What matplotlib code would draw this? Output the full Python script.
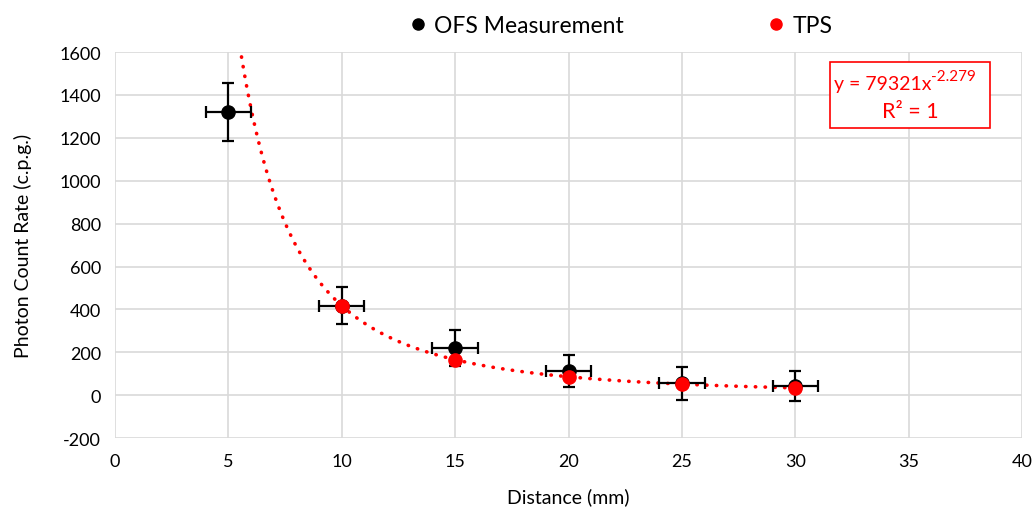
import numpy as np
import matplotlib.pyplot as plt
from matplotlib.lines import Line2D
from matplotlib.patches import Rectangle

plt.rcParams['font.family'] = ['Lato', 'DejaVu Sans']
plt.rcParams['axes.unicode_minus'] = False

# OFS measurements (with error bars)
ofs_x = np.array([5, 10, 15, 20, 25, 30])
ofs_y = np.array([1320, 417, 219, 112, 55, 45])
ofs_yerr = np.array([135, 86, 84, 75, 75, 70])
ofs_xerr = np.array([1, 1, 1, 1, 1, 1])

# TPS values
tps_x = np.array([10, 15, 20, 25, 30])
tps_y = np.array([417, 166, 86, 52, 35])

# power trendline y = A * x^B
A = 79321
B = -2.279

fig = plt.figure(figsize=(10.33, 5.1), dpi=100)
ax = fig.add_axes([0.1113, 0.139, 0.8781, 0.757])

x_fit = np.linspace(5, 30, 400)
ax.plot(x_fit, A * x_fit**B, color='#ff0000', lw=2.6, linestyle=(0, (0.1, 2.6)),
        dash_capstyle='round', zorder=3)

ax.errorbar(ofs_x, ofs_y, xerr=ofs_xerr, yerr=ofs_yerr, fmt='o', color='black',
            ms=9.5, elinewidth=1.6, capsize=4, capthick=1.6, zorder=4)
ax.plot(tps_x, tps_y, 'o', color='#ff0000', ms=9.5, zorder=5)

ax.set_xlim(0, 40)
ax.set_ylim(-200, 1600)
ax.set_xticks(np.arange(0, 45, 5))
ax.set_yticks(np.arange(-200, 1800, 200))
ax.grid(True, color='#d9d9d9', lw=1.2)
ax.set_axisbelow(True)
for s in ax.spines.values():
    s.set_visible(False)
ax.tick_params(length=0, labelsize=13, colors='#000000')
ax.tick_params(axis='x', pad=11)
ax.tick_params(axis='y', pad=10)

ax.set_xlabel('Distance (mm)', fontsize=14, labelpad=13)
ax.set_ylabel('Photon Count Rate (c.p.g.)', fontsize=14, labelpad=20)

# trendline label box
ax.add_patch(Rectangle((0.788, 0.803), 0.177, 0.171, transform=ax.transAxes,
                       fc='white', ec='#ff0000', lw=1.2, zorder=6))
ax.text(0.9, 0.918, 'y = 79321x', transform=ax.transAxes, ha='right',
        va='center', color='#ff0000', fontsize=14, zorder=7)
ax.text(0.9, 0.937, '-2.279', transform=ax.transAxes, ha='left',
        va='center', color='#ff0000', fontsize=11, zorder=7)
ax.text(0.8765, 0.847, 'R² = 1', transform=ax.transAxes, ha='center',
        va='center', color='#ff0000', fontsize=15.5, zorder=7)

handles = [Line2D([], [], ls='none', marker='o', color='black', ms=8),
           Line2D([], [], ls='none', marker='o', color='#ff0000', ms=8)]
ax.legend(handles, ['OFS Measurement', 'TPS'], loc='lower center',
          bbox_to_anchor=(0.558, 1.005), ncol=2, frameon=False, fontsize=16.5,
          handlelength=0.7, handletextpad=0.35, columnspacing=6.3,
          borderaxespad=0.2)

fig.savefig('out.png', dpi=100)
